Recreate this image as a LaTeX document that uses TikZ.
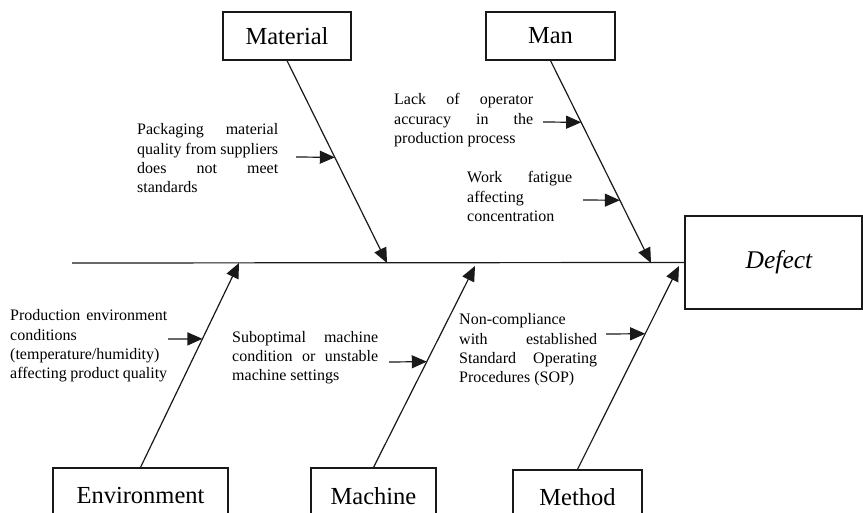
\documentclass[tikz,border=0pt]{standalone}
\usepackage{fontspec}
\setmainfont{Liberation Serif}
\usetikzlibrary{arrows.meta,calc}
% one fully justified line of a cause text
\newcommand\jrow[1]{\hbox to \hsize{#1}}
% a block of cause lines, baseline on its first line
\newcommand\causetext[2]{\vtop{\hsize=#1\relax#2}}
\begin{document}
\begin{tikzpicture}[x=1pt,y=-1pt,
  category/.style={draw=black!90, line width=1.2pt, rectangle, inner sep=0pt,
    font=\fontsize{24.5}{28}\selectfont},
  effect/.style={draw=black!90, line width=1.2pt, rectangle, inner sep=0pt,
    font=\fontsize{25.5}{30}\selectfont\itshape},
  cause/.style={anchor=base west, inner sep=0pt,
    font=\fontsize{16}{19.3}\selectfont},
  spine/.style={draw=black!90, line width=1.2pt},
  bone/.style={draw=black!90, line width=1.2pt,
    -{Triangle[length=15pt,width=13pt]}},
]
\useasboundingbox (0,0) rectangle (863,513);
\clip (0,0) rectangle (863,513);

% effect head and category boxes
\node[effect, minimum width=177pt, minimum height=93pt] (defect) at (773.5,262.5) {\hspace*{11pt}Defect};
\node[category, minimum width=128pt, minimum height=48pt] (material) at (287,36) {Material};
\node[category, minimum width=129pt, minimum height=48pt] (man) at (550.5,36) {Man};
\node[category, minimum width=175pt, minimum height=56pt] (environment) at (140.5,496) {Environment};
\node[category, minimum width=125pt, minimum height=56pt] (machine) at (373.5,496) {Machine};
\node[category, minimum width=129pt, minimum height=54pt] (method) at (577.5,497) {Method};

% spine
\coordinate (tail) at (72,263);
\draw[spine] (tail) -- (defect.west);

% bones meeting the spine
\coordinate (tmat) at (387,263);
\coordinate (tman) at (651,263);
\coordinate (tenv) at (239,263);
\coordinate (tmach) at (475,266);
\coordinate (tmeth) at (679,266);
\draw[bone] (material.south) -- (tmat);
\draw[bone] (man.south) -- (tman);
\draw[bone] (environment.north) -- (tenv);
\draw[bone] (machine.north) -- (tmach);
\draw[bone] (method.north) -- (tmeth);

% causes
\node[cause] (c-mat) at (137,135) {\causetext{141pt}{%
  \jrow{Packaging material}\jrow{quality from suppliers}\jrow{does not meet}\hbox{standards}}};
\node[cause] (c-man1) at (394,105) {\causetext{139pt}{%
  \jrow{Lack of operator}\jrow{accuracy in the}\hbox{production process}}};
\node[cause] (c-man2) at (467,183) {\causetext{105pt}{%
  \jrow{Work fatigue}\hbox{affecting}\hbox{concentration}}};
\node[cause] (c-env) at (10,321) {\causetext{157pt}{%
  \jrow{Production environment}\hbox{conditions}\hbox{(temperature/humidity)}\jrow{affecting product quality}}};
\node[cause] (c-mach) at (232,342) {\causetext{146pt}{%
  \jrow{Suboptimal machine}\jrow{condition or unstable}\hbox{machine settings}}};
\node[cause] (c-meth) at (459,325) {\causetext{138pt}{%
  \hbox{Non-compliance}\jrow{with established}\jrow{Standard Operating}\hbox{Procedures (SOP)}}};

% cause arrows pointing at their bones
\coordinate (a-mat) at (296,157);
\coordinate (a-man1) at (543,122);
\coordinate (a-man2) at (583,200);
\coordinate (a-env) at (168,339);
\coordinate (a-mach) at (389,362);
\coordinate (a-meth) at (606,334);
\draw[bone] (a-mat) -- ($(material.south)!0.478!(tmat)$);
\draw[bone] (a-man1) -- ($(man.south)!0.305!(tman)$);
\draw[bone] (a-man2) -- ($(man.south)!0.690!(tman)$);
\draw[bone] (a-env) -- ($(environment.north)!0.629!(tenv)$);
\draw[bone] (a-mach) -- ($(machine.north)!0.525!(tmach)$);
\draw[bone] (a-meth) -- ($(method.north)!0.667!(tmeth)$);
\end{tikzpicture}
\end{document}
